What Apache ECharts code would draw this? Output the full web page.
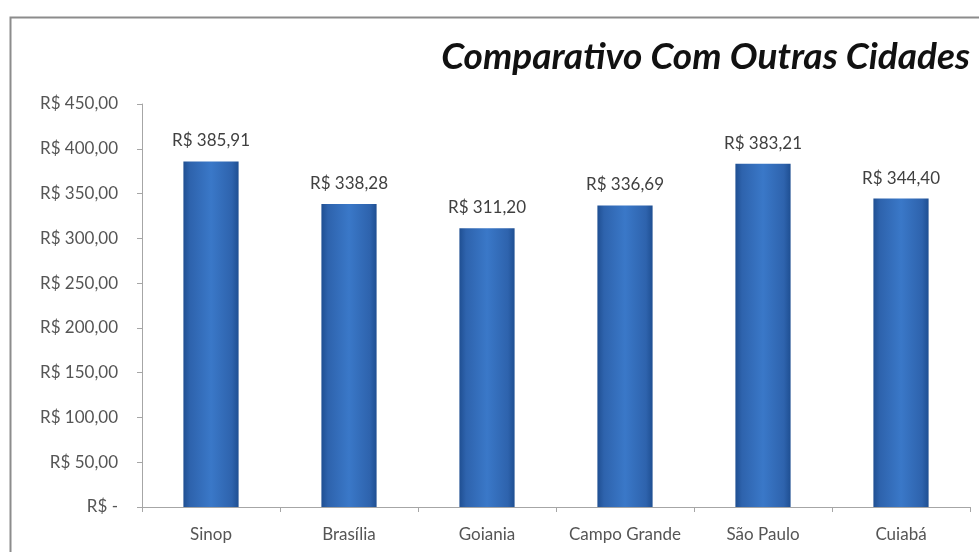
<!DOCTYPE html>
<html>
<head>
<meta charset="utf-8">
<script src="https://cdn.jsdelivr.net/npm/echarts@6/dist/echarts.min.js"></script>
<style>
  html, body { margin: 0; padding: 0; background: #fff; }
  #main { width: 979px; height: 552px; }
</style>
</head>
<body>
<div id="main"></div>
<script>
var cidades = ["Sinop", "Brasília", "Goiania", "Campo Grande", "São Paulo", "Cuiabá"];
var valores = [385.91, 338.28, 311.20, 336.69, 383.21, 344.40];
var yMax = 450;
var yStep = 50;

function moeda(v) {
  if (v === 0) return "R$ -";
  return "R$ " + v.toFixed(2).replace(".", ",");
}

var chart = echarts.init(document.getElementById("main"));

var option = {
  animation: false,
  backgroundColor: "#fff",
  textStyle: { fontFamily: "Lato" },
  graphic: [
    {
      type: "rect",
      left: 8,
      top: 15,
      shape: { width: 1000, height: 600 },
      style: { fill: "none", stroke: "#8c8c8c", lineWidth: 2 }
    }
  ],
  title: {
    text: "Comparativo Com Outras Cidades",
    right: 4,
    top: 34,
    textStyle: {
      fontFamily: "Lato",
      fontSize: 37,
      fontWeight: "bold",
      fontStyle: "italic",
      color: "#111"
    }
  },
  grid: {
    left: 142,
    right: 9,
    top: 104,
    bottom: 45
  },
  xAxis: {
    type: "category",
    data: cidades,
    axisLine: { lineStyle: { color: "#a6a6a6", width: 1 } },
    axisTick: { show: true, length: 5, lineStyle: { color: "#a6a6a6" } },
    axisLabel: {
      interval: 0,
      hideOverlap: false,
      color: "#555",
      fontSize: 17,
      margin: 19,
      fontFamily: "Lato"
    }
  },
  yAxis: {
    type: "value",
    min: 0,
    max: yMax,
    interval: yStep,
    splitLine: { show: false },
    axisLine: { show: true, lineStyle: { color: "#a6a6a6", width: 1 } },
    axisTick: { show: true, length: 5, lineStyle: { color: "#a6a6a6" } },
    axisLabel: {
      color: "#555",
      fontSize: 17,
      margin: 24,
      fontFamily: "Lato",
      formatter: moeda
    }
  },
  series: [
    {
      type: "bar",
      data: valores,
      barWidth: "40%",
      itemStyle: {
        color: new echarts.graphic.LinearGradient(0, 0, 1, 0, [
          { offset: 0, color: "#1f4f92" },
          { offset: 0.12, color: "#2e63ad" },
          { offset: 0.5, color: "#3a78c8" },
          { offset: 0.88, color: "#2e63ad" },
          { offset: 1, color: "#1f4f92" }
        ]),
        borderWidth: 0
      },
      label: {
        show: true,
        position: "top",
        distance: 12,
        color: "#404040",
        fontSize: 17,
        fontFamily: "Lato",
        formatter: function (p) { return moeda(p.value); }
      }
    }
  ]
};

chart.setOption(option);
</script>
</body>
</html>
